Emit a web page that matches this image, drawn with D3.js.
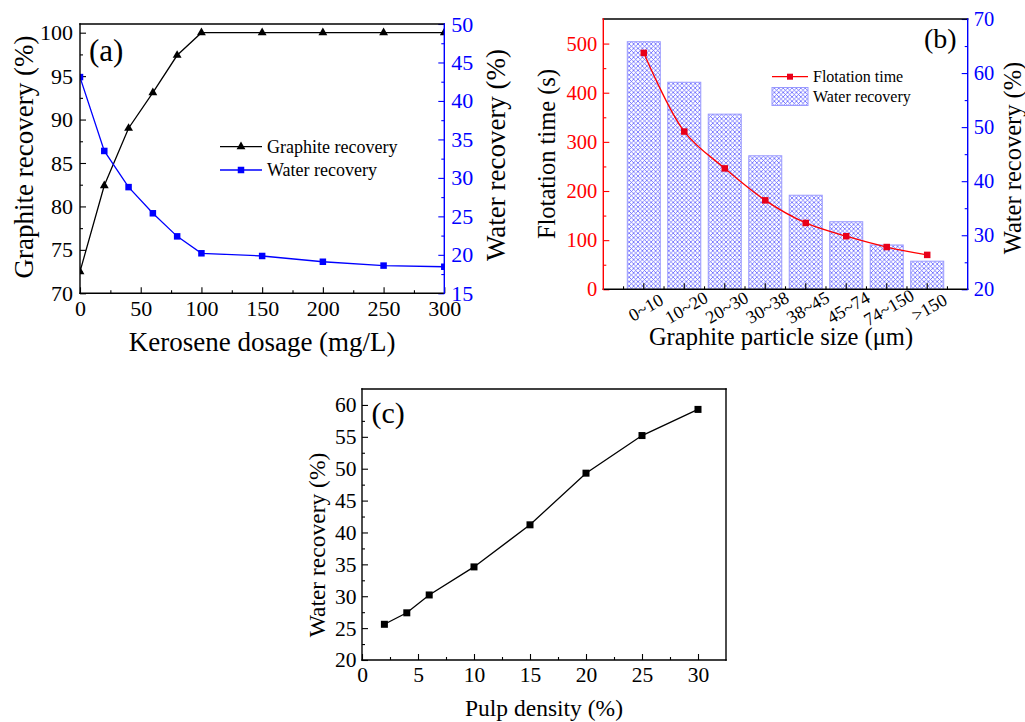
<!DOCTYPE html>
<html>
<head>
<meta charset="utf-8">
<script src="https://cdn.jsdelivr.net/npm/d3@7"></script>
<style>
  html, body { margin: 0; padding: 0; background: #fff; }
  svg { display: block; }
  text { font-family: "Liberation Serif", "Times New Roman", serif; }
</style>
</head>
<body>
<svg id="fig" width="1025" height="722"></svg>
<script>
// ---- (a) kerosene dosage series ----
const keroseneDosage = [0, 20, 40, 60, 80, 100, 150, 200, 250, 300];
const graphiteRecoveryA = [72.5, 82.4, 89.0, 93.1, 97.4, 100, 100, 100, 100, 100];
const waterRecoveryA = [43.1, 33.5, 28.8, 25.4, 22.4, 20.2, 19.85, 19.1, 18.6, 18.45];

// ---- (b) particle size series ----
const sizeClasses = ["0~10", "10~20", "20~30", "30~38", "38~45", "45~74", "74~150", ">150"];
const flotationTime = [481, 321, 246, 181, 135, 108, 86, 70];
const waterRecoveryB = [65.8, 58.3, 52.4, 44.7, 37.4, 32.5, 28.2, 25.2];

// ---- (c) pulp density series ----
const pulpDensity = [2, 4, 6, 10, 15, 20, 25, 30];
const waterRecoveryC = [25.6, 27.4, 30.2, 34.6, 41.2, 49.3, 55.2, 59.3];

const svg = d3.select("#fig");
svg.append("rect").attr("width", 1025).attr("height", 722).attr("fill", "#fff");

const FONT = "Liberation Serif, Times New Roman, serif";
const BLUE = "#0000ff", RED = "#ff0000", BLACK = "#000";
const MAJOR = 6, MINOR = 3;

// inward-pointing Origin-style axis with major + minor ticks
function drawAxis(g, axisFn, scale, majors, minors, opts) {
  const a = axisFn(scale).tickValues(majors).tickSizeInner(-MAJOR).tickSizeOuter(0)
    .tickPadding(opts.pad).tickFormat(opts.format || d3.format("d"));
  const ga = g.append("g").attr("transform", opts.transform || null).call(a);
  ga.select(".domain").remove();
  ga.selectAll("line").attr("stroke", opts.color).attr("stroke-width", 1.1);
  ga.selectAll("text").attr("fill", opts.color).attr("font-family", FONT)
    .attr("font-size", opts.fontSize);
  if (opts.noLabels) ga.selectAll("text").remove();
  if (minors && minors.length) {
    const m = axisFn(scale).tickValues(minors).tickSizeInner(-MINOR).tickSizeOuter(0).tickFormat("");
    const gm = g.append("g").attr("transform", opts.transform || null).call(m);
    gm.select(".domain").remove();
    gm.selectAll("line").attr("stroke", opts.color).attr("stroke-width", 1.1);
  }
  return ga;
}

function spine(g, x1, y1, x2, y2, color) {
  g.append("line").attr("x1", x1).attr("y1", y1).attr("x2", x2).attr("y2", y2)
    .attr("stroke", color).attr("stroke-width", 1.4).attr("stroke-linecap", "square");
}

function rotatedTitle(g, text, x, y, size, angle) {
  g.append("text").attr("transform", `translate(${x},${y}) rotate(${angle})`)
    .attr("text-anchor", "middle").attr("font-size", size).attr("fill", BLACK).text(text);
}

function triangle(g, cx, cy, s, color) {
  g.append("path").attr("d", d3.symbol(d3.symbolTriangle, s)())
    .attr("transform", `translate(${cx},${cy})`).attr("fill", color);
}
function square(g, cx, cy, w, color) {
  g.append("rect").attr("x", cx - w / 2).attr("y", cy - w / 2).attr("width", w).attr("height", w)
    .attr("fill", color);
}

const defs = svg.append("defs");

// ================= Panel (a) =================
{
  const L = 80, R = 444.3, T = 24, B = 293.3;
  const x = d3.scaleLinear().domain([0, 300]).range([L, R]);
  const yL = d3.scaleLinear().domain([70, 101]).range([B, T]);
  const yR = d3.scaleLinear().domain([15, 50]).range([B, T]);
  const g = svg.append("g");

  defs.append("clipPath").attr("id", "clipA").append("rect")
    .attr("x", L).attr("y", T).attr("width", R - L).attr("height", B - T);

  drawAxis(g, d3.axisBottom, x, d3.range(0, 301, 50), d3.range(25, 300, 50),
    { transform: `translate(0,${B})`, pad: 7, color: BLACK, fontSize: 22 });
  drawAxis(g, d3.axisLeft, yL, d3.range(70, 101, 5), d3.range(72.5, 100, 5),
    { transform: `translate(${L},0)`, pad: 7, color: BLACK, fontSize: 22 });
  drawAxis(g, d3.axisRight, yR, d3.range(15, 51, 5), d3.range(17.5, 50, 5),
    { transform: `translate(${R},0)`, pad: 7, color: BLUE, fontSize: 22 });

  const data = g.append("g").attr("clip-path", "url(#clipA)");
  const lineG = d3.line().x((d, i) => x(keroseneDosage[i])).y(d => yL(d));
  const lineW = d3.line().x((d, i) => x(keroseneDosage[i])).y(d => yR(d));
  data.append("path").attr("d", lineG(graphiteRecoveryA)).attr("fill", "none")
    .attr("stroke", BLACK).attr("stroke-width", 1.3);
  data.append("path").attr("d", lineW(waterRecoveryA)).attr("fill", "none")
    .attr("stroke", BLUE).attr("stroke-width", 1.3);
  graphiteRecoveryA.forEach((v, i) => triangle(data, x(keroseneDosage[i]), yL(v), 34, BLACK));
  waterRecoveryA.forEach((v, i) => square(data, x(keroseneDosage[i]), yR(v), 6.5, BLUE));

  spine(g, L, T, R, T, BLACK);
  spine(g, L, B, R, B, BLACK);
  spine(g, L, T, L, B, BLACK);
  spine(g, R, T, R, B, BLUE);

  // legend
  const lg = g.append("g");
  lg.append("line").attr("x1", 220).attr("x2", 262).attr("y1", 146.7).attr("y2", 146.7)
    .attr("stroke", BLACK).attr("stroke-width", 1.3);
  triangle(lg, 241, 146.7, 34, BLACK);
  lg.append("text").attr("x", 267).attr("y", 146.7).attr("dy", "0.35em").attr("font-size", 18)
    .text("Graphite recovery");
  lg.append("line").attr("x1", 220).attr("x2", 262).attr("y1", 170).attr("y2", 170)
    .attr("stroke", BLUE).attr("stroke-width", 1.3);
  square(lg, 241, 170, 6.5, BLUE);
  lg.append("text").attr("x", 267).attr("y", 170).attr("dy", "0.35em").attr("font-size", 18)
    .text("Water recovery");

  g.append("text").attr("x", 89).attr("y", 61).attr("font-size", 31).text("(a)");
  g.append("text").attr("x", (L + R) / 2).attr("y", 351).attr("text-anchor", "middle")
    .attr("font-size", 27).text("Kerosene dosage (mg/L)");
  rotatedTitle(g, "Graphite recovery (%)", 33, 157, 27, -90);
  rotatedTitle(g, "Water recovery (%)", 505, 155, 27, -90);
}

// ================= Panel (b) =================
{
  const L = 603.3, R = 967.7, T = 19, B = 289.3;
  const x = d3.scalePoint().domain(sizeClasses).range([L, R]).padding(1);
  const step = x.step();
  const yL = d3.scaleLinear().domain([0, 550]).range([B, T]);
  const yR = d3.scaleLinear().domain([20, 70]).range([B, T]);
  const g = svg.append("g");

  // cross-hatch fill for the water recovery bars
  const pat = defs.append("pattern").attr("id", "hatch").attr("patternUnits", "userSpaceOnUse")
    .attr("width", 4.4).attr("height", 4.4);
  pat.append("rect").attr("width", 4.4).attr("height", 4.4).attr("fill", "#fff");
  pat.append("path").attr("d", "M0,0L4.4,4.4M4.4,0L0,4.4")
    .attr("stroke", "#5050ff").attr("stroke-width", 0.7);

  const barW = step * 0.815;
  g.selectAll("rect.bar").data(waterRecoveryB).enter().append("rect").attr("class", "bar")
    .attr("x", (d, i) => x(sizeClasses[i]) - barW / 2)
    .attr("y", d => yR(d)).attr("width", barW).attr("height", d => B - yR(d))
    .attr("fill", "url(#hatch)").attr("stroke", "#9a9aff").attr("stroke-width", 1);

  // bottom axis: major at class centres, minor at class boundaries
  const bMinor = sizeClasses.map(c => x(c) - step / 2).concat([x(sizeClasses[7]) + step / 2]);
  const gb = g.append("g");
  sizeClasses.forEach(c => gb.append("line").attr("x1", x(c)).attr("x2", x(c))
    .attr("y1", B).attr("y2", B - MAJOR).attr("stroke", BLACK).attr("stroke-width", 1.1));
  bMinor.forEach(v => gb.append("line").attr("x1", v).attr("x2", v)
    .attr("y1", B).attr("y2", B - MINOR).attr("stroke", BLACK).attr("stroke-width", 1.1));
  sizeClasses.forEach(c => gb.append("text")
    .attr("transform", `translate(${x(c) + 2},${B + 18}) rotate(-30)`)
    .attr("text-anchor", "middle").attr("dy", "0.35em").attr("font-size", 18).text(c));

  drawAxis(g, d3.axisLeft, yL, d3.range(0, 501, 100), d3.range(50, 501, 100),
    { transform: `translate(${L},0)`, pad: 6, color: RED, fontSize: 20.5 });
  drawAxis(g, d3.axisRight, yR, d3.range(20, 71, 10), d3.range(25, 70, 10),
    { transform: `translate(${R},0)`, pad: 6, color: BLUE, fontSize: 20.5 });

  const line = d3.line().curve(d3.curveCatmullRom.alpha(0.5))
    .x((d, i) => x(sizeClasses[i])).y(d => yL(d));
  g.append("path").attr("d", line(flotationTime)).attr("fill", "none")
    .attr("stroke", RED).attr("stroke-width", 1.3);
  flotationTime.forEach((v, i) => square(g, x(sizeClasses[i]), yL(v), 6.5, "#e8001a"));

  spine(g, L, T, R, T, BLACK);
  spine(g, L, B, R, B, BLACK);
  spine(g, L, T, L, B, RED);
  spine(g, R, T, R, B, BLUE);

  // legend
  const lg = g.append("g");
  lg.append("line").attr("x1", 772).attr("x2", 808).attr("y1", 76.7).attr("y2", 76.7)
    .attr("stroke", RED).attr("stroke-width", 1.3);
  square(lg, 790, 76.7, 6, "#e8001a");
  lg.append("text").attr("x", 813).attr("y", 76.7).attr("dy", "0.35em").attr("font-size", 16)
    .text("Flotation time");
  lg.append("rect").attr("x", 772).attr("y", 87.5).attr("width", 36).attr("height", 18)
    .attr("fill", "url(#hatch)").attr("stroke", "#9a9aff").attr("stroke-width", 1);
  lg.append("text").attr("x", 813).attr("y", 96.5).attr("dy", "0.35em").attr("font-size", 16)
    .text("Water recovery");

  g.append("text").attr("x", 924).attr("y", 48).attr("font-size", 28).text("(b)");
  g.append("text").attr("x", 781).attr("y", 345).attr("text-anchor", "middle")
    .attr("font-size", 24.5).text("Graphite particle size (μm)");
  rotatedTitle(g, "Flotation time (s)", 555, 154, 24.5, -90);
  rotatedTitle(g, "Water recovery (%)", 1021, 158, 24.5, -90);
}

// ================= Panel (c) =================
{
  const L = 362, R = 726, T = 389, B = 660;
  const x = d3.scaleLinear().domain([0, 32.5]).range([L, R]);
  const y = d3.scaleLinear().domain([20, 62.5]).range([B, T]);
  const g = svg.append("g");

  drawAxis(g, d3.axisBottom, x, d3.range(0, 31, 5), d3.range(2.5, 30, 5),
    { transform: `translate(0,${B})`, pad: 6.5, color: BLACK, fontSize: 21.5 });
  drawAxis(g, d3.axisLeft, y, d3.range(20, 61, 5), d3.range(22.5, 61, 5),
    { transform: `translate(${L},0)`, pad: 5.5, color: BLACK, fontSize: 21.5 });

  const line = d3.line().x((d, i) => x(pulpDensity[i])).y(d => y(d));
  g.append("path").attr("d", line(waterRecoveryC)).attr("fill", "none")
    .attr("stroke", BLACK).attr("stroke-width", 1.3);
  waterRecoveryC.forEach((v, i) => square(g, x(pulpDensity[i]), y(v), 7, BLACK));

  spine(g, L, T, R, T, BLACK);
  spine(g, L, B, R, B, BLACK);
  spine(g, L, T, L, B, BLACK);
  spine(g, R, T, R, B, BLACK);

  g.append("text").attr("x", 371.5).attr("y", 423).attr("font-size", 30).text("(c)");
  g.append("text").attr("x", (L + R) / 2).attr("y", 716).attr("text-anchor", "middle")
    .attr("font-size", 23.5).text("Pulp density (%)");
  rotatedTitle(g, "Water recovery (%)", 325, 545, 23.5, -90);
}
</script>
</body>
</html>
